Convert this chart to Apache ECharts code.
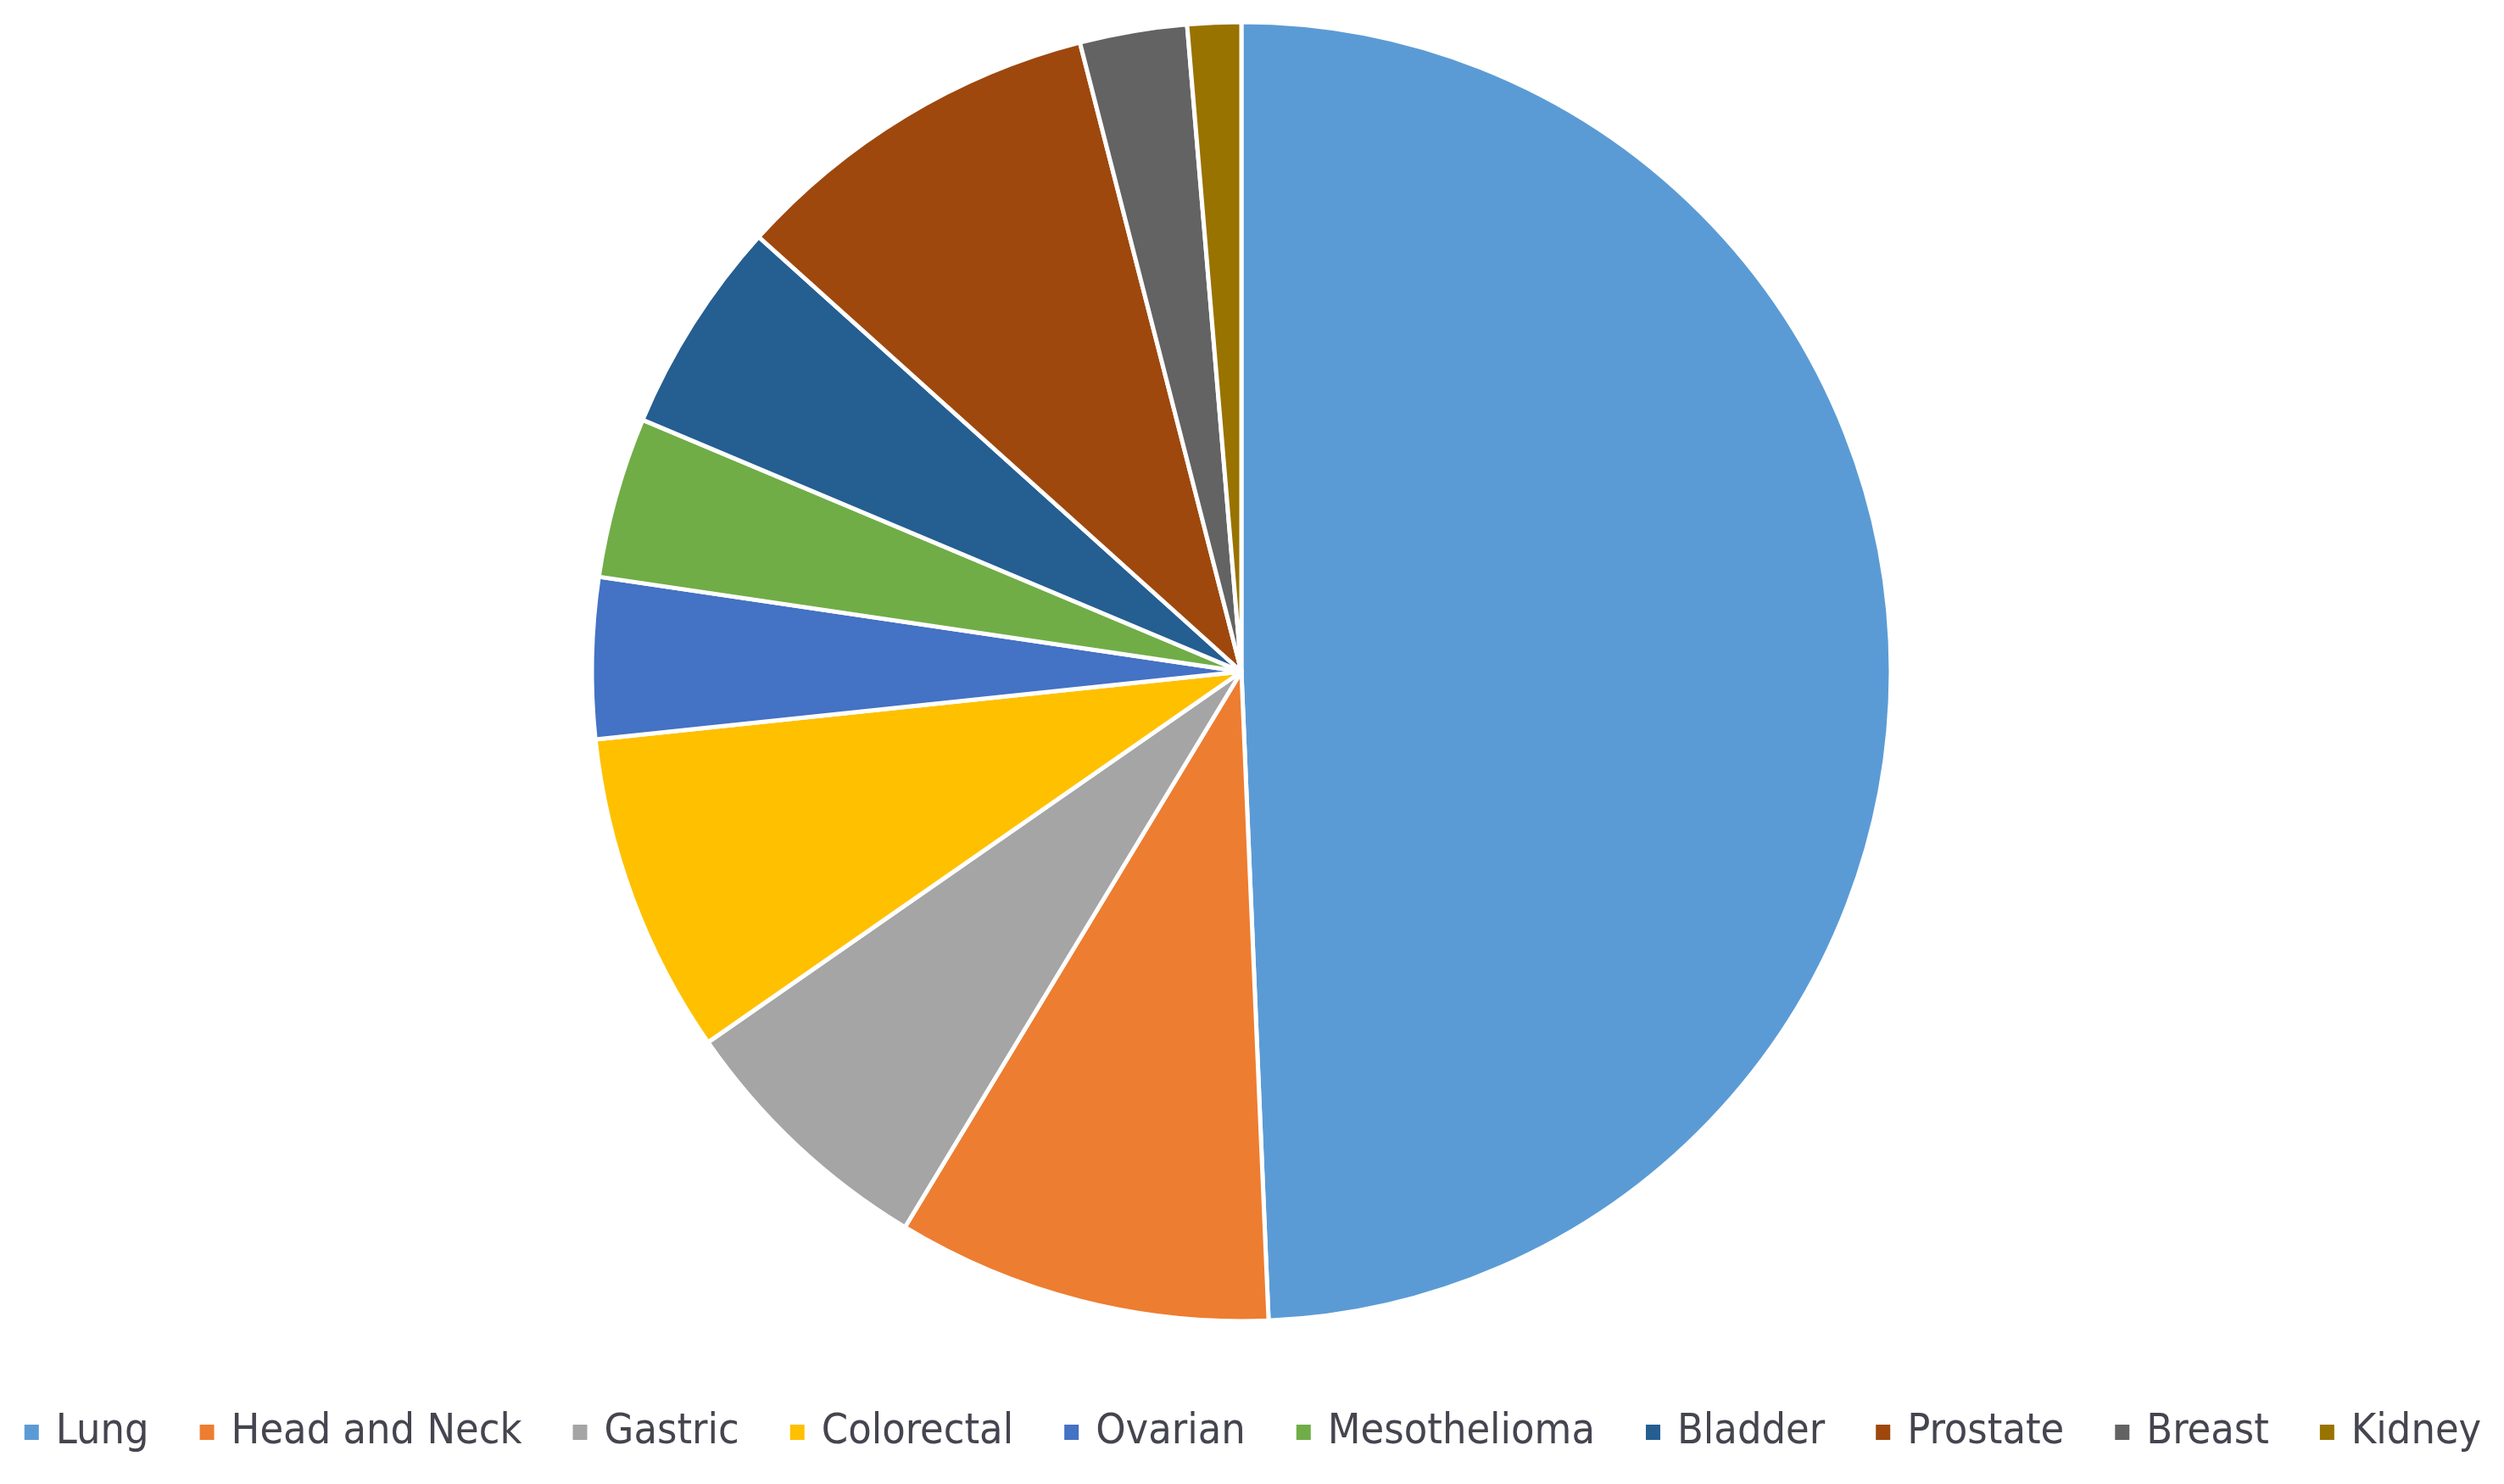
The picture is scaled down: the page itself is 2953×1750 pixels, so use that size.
<!DOCTYPE html>
<html>
<head>
<meta charset="utf-8">
<script src="https://cdn.jsdelivr.net/npm/echarts@6/dist/echarts.min.js"></script>
<style>
html,body{margin:0;padding:0;background:#fff;}
#chart{width:2953px;height:1750px;}
</style>
</head>
<body>
<div id="chart"></div>
<script>
const categories = ["Lung", "Head and Neck", "Gastric", "Colorectal", "Ovarian", "Mesothelioma", "Bladder", "Prostate", "Breast", "Kidney"];
const values = [37, 7, 5, 6, 3, 3, 4, 7, 2, 1];
const colors = ["#5B9BD5", "#ED7D31", "#A5A5A5", "#FFC000", "#4472C4", "#70AD47", "#255E91", "#9E480E", "#636363", "#997300"];

const chart = echarts.init(document.getElementById('chart'), null, {renderer: 'canvas'});
chart.setOption({
  backgroundColor: '#ffffff',
  animation: false,
  color: colors,
  legend: {
    data: categories,
    left: 'center',
    width: 2953,
    top: 1664,
    padding: 0,
    icon: 'rect',
    itemWidth: 19,
    itemHeight: 20,
    itemGap: 58,
    textStyle: {
      fontFamily: '"DejaVu Sans Condensed", "Noto Sans", sans-serif',
      fontSize: 50,
      color: '#45454f',
      padding: [0, 0, 0, 14]
    }
  },
  series: [{
    type: 'pie',
    center: [1464, 792],
    radius: [0, 766],
    startAngle: 90,
    clockwise: true,
    avoidLabelOverlap: false,
    label: {show: false},
    labelLine: {show: false},
    itemStyle: {borderColor: '#ffffff', borderWidth: 5},
    data: categories.map((c, i) => ({name: c, value: values[i]}))
  }]
});
</script>
</body>
</html>
